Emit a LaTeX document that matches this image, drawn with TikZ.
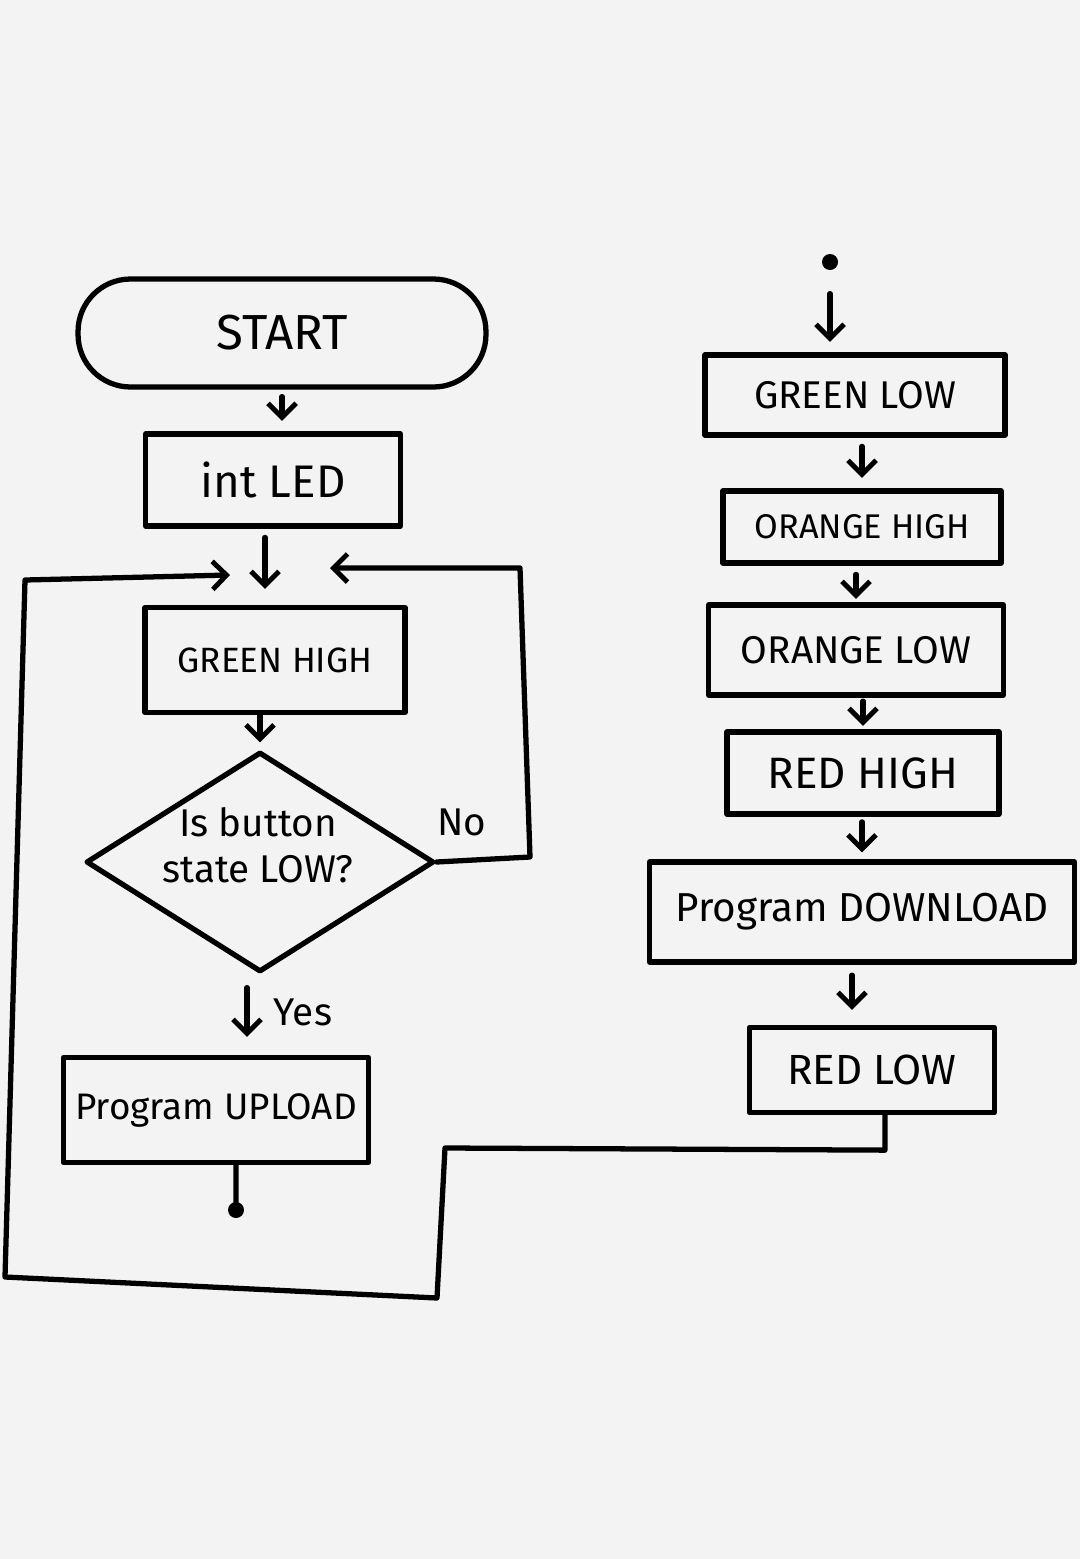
\documentclass[tikz,border=0pt]{standalone}
\usepackage{fontspec}
\setmainfont{Fira Sans}
\usetikzlibrary{shapes.geometric,arrows.meta,calc}
\definecolor{bg}{HTML}{F3F3F3}
\begin{document}
\begin{tikzpicture}[x=0.02cm,y=-0.02cm,
  line width=3pt, line join=round, line cap=round,
  box/.style={draw, rectangle, inner sep=0pt, line width=3pt},
  arr/.style={-{Straight Barb[length=8pt,width=16pt,line width=2.8pt]}},
  conn/.style={line width=3pt},
  fsz/.style={font=\fontsize{#1}{#1}\selectfont}]
\fill[bg] (0,0) rectangle (1080,1559);
\useasboundingbox (0,0) rectangle (1080,1559);

% left column
\node[box, rounded corners=1.05cm, minimum width=8.16cm, minimum height=2.16cm, fsz=28] (start) at (282,333) {START};
\node[box, minimum width=5.1cm, minimum height=1.84cm, fsz=26] (intled) at (273,480) {int LED};
\node[box, minimum width=5.2cm, minimum height=2.1cm, fsz=20] (greenhigh) at (275,660) {GREEN HIGH};
\node[draw, diamond, inner sep=0pt, line width=3pt, minimum width=6.96cm, minimum height=4.4cm] (dec) at (260,862) {};
\node[fsz=22, align=center] (declbl) at (258,845) {Is button\\[4pt]state LOW?};
\node[fsz=22] (nolbl) at (462,822) {No};
\node[fsz=22] (yeslbl) at (303,1012) {Yes};
\node[box, minimum width=6.1cm, minimum height=2.1cm, fsz=21] (upload) at (216,1110) {Program UPLOAD};
\coordinate (updot) at (236,1210);
\coordinate (joinL) at (230,575);
\coordinate (joinR) at (330,568);

% right column
\node[circle, fill, inner sep=0pt, minimum size=0.32cm] (topdot) at (830,262) {};
\node[box, minimum width=6.0cm, minimum height=1.6cm, fsz=22] (greenlow) at (855,395) {GREEN LOW};
\node[box, minimum width=5.56cm, minimum height=1.44cm, fsz=19.5] (orangehigh) at (862,527) {ORANGE HIGH};
\node[box, minimum width=5.9cm, minimum height=1.8cm, fsz=22] (orangelow) at (856,650) {ORANGE LOW};
\node[box, minimum width=5.44cm, minimum height=1.64cm, fsz=25] (redhigh) at (863,773) {RED HIGH};
\node[box, minimum width=8.5cm, minimum height=2.0cm, fsz=23] (download) at (862,912) {Program DOWNLOAD};
\node[box, minimum width=4.9cm, minimum height=1.7cm, fsz=24] (redlow) at (872,1070) {RED LOW};

% left arrows
\draw[arr, shorten <=4pt, shorten >=6pt] (start.south) -- (start.south |- intled.north);
\draw[arr, shorten <=5pt, shorten >=0.32cm] ([xshift=-0.16cm]intled.south) -- ([xshift=-0.16cm]intled.south |- greenhigh.north);
\draw[arr, shorten >=4pt] (greenhigh.south -| dec.north) -- (dec.north);
\draw[arr, shorten <=0.26cm, shorten >=0.36cm] ([xshift=-0.26cm]dec.south) -- ([xshift=-0.26cm]dec.south |- upload.north);
\draw[conn] ([xshift=0.4cm]upload.south) -- (updot);
\fill (updot) circle (0.16cm);

% loops
\draw[arr] (dec.east) -- (530,857) -- (520,568) -- (joinR);
\draw[arr] ([xshift=0.26cm]redlow.south) -- ++(0,35) -- (445,1148) -- (437,1298) -- (5,1277) -- (25,580) -- (joinL);

% right arrows
\draw[arr, shorten <=0.42cm, shorten >=6pt] (topdot) -- (topdot |- greenlow.north);
\draw[arr, shorten <=5pt, shorten >=6pt] (greenlow.south -| orangehigh.north) -- (orangehigh.north);
\draw[arr, shorten <=5pt, shorten >=2pt] (orangehigh.south -| orangelow.north) -- (orangelow.north);
\draw[arr, shorten <=2pt, shorten >=2pt] (orangelow.south -| redhigh.north) -- (redhigh.north);
\draw[arr, shorten <=3pt, shorten >=4pt] (redhigh.south -| download.north) -- (download.north);
\draw[arr, shorten <=6pt, shorten >=0.3cm] ([xshift=-0.2cm]download.south) -- ([xshift=-0.2cm]download.south |- redlow.north);
\end{tikzpicture}
\end{document}
